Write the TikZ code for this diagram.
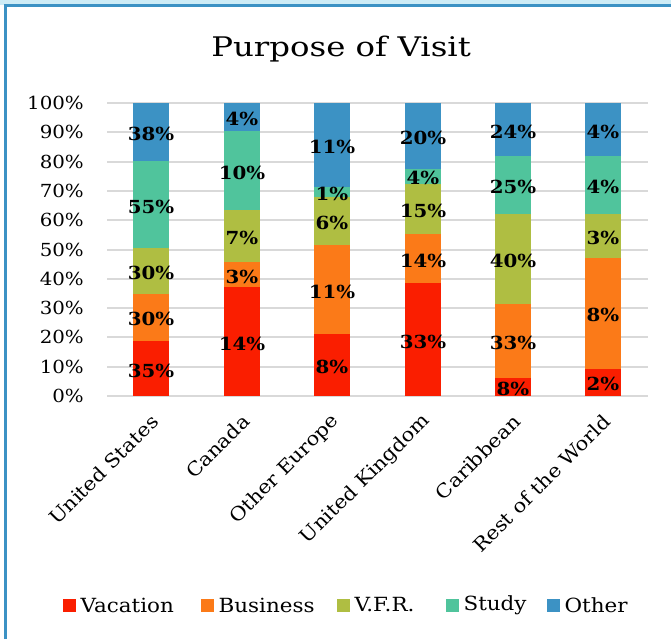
\documentclass[tikz,border=0pt]{standalone}
\usepackage{fontspec}
\setmainfont[FakeStretch=1.1]{DejaVu Serif}
\newfontfamily\titlefont[FakeStretch=1.2]{DejaVu Serif}
\definecolor{cVac}{RGB}{250,30,0}
\definecolor{cBus}{RGB}{251,122,24}
\definecolor{cVFR}{RGB}{175,190,66}
\definecolor{cStu}{RGB}{80,196,156}
\definecolor{cOth}{RGB}{60,146,196}
\definecolor{frameblue}{RGB}{60,146,196}
\definecolor{strip}{RGB}{205,236,246}
\definecolor{gridgray}{RGB}{217,217,217}
\tikzset{
  gridline/.style={draw=gridgray, line width=2},
  ticklbl/.style={anchor=east, inner sep=0, font=\fontsize{18}{20}\selectfont},
  seglbl/.style={inner sep=0, font=\fontsize{18}{20}\selectfont\bfseries},
  catlbl/.style={rotate=45, anchor=east, inner sep=0, font=\fontsize{19}{21}\selectfont},
  legsq/.style={minimum size=13, inner sep=0},
  leglbl/.style={anchor=west, inner sep=0, font=\fontsize{19.5}{21}\selectfont},
}
\begin{document}
\begin{tikzpicture}[x=1pt,y=-1pt]
\useasboundingbox (0,0) rectangle (671,639);
\fill[white] (0,0) rectangle (671,639);
\fill[strip] (0,0) rectangle (671,5);
\draw[frameblue, line width=3] (5,639) -- (5,5.5) -- (671,5.5);
\node[font=\fontsize{27}{30}\selectfont\titlefont] (title) at (341,49) {Purpose of Visit};
\foreach \p in {0,10,...,100} {
  \draw[gridline] (107,{396-2.93*\p}) -- (648,{396-2.93*\p});
  \node[ticklbl] (t\p) at (84,{396-2.93*\p}) {\p\%};
}
\foreach \i/\cx/\a/\b/\c/\d/\la/\lb/\lc/\ld/\le/\cat in {
  1/151/18.8/34.9/50.6/80.1/35/30/30/55/38/United States,
  2/242/37.1/45.8/63.5/90.4/14/3/7/10/4/Canada,
  3/332/21.0/51.5/67.8/71.2/8/11/6/1/11/Other Europe,
  4/423/38.6/55.2/72.5/77.5/33/14/15/4/20/United Kingdom,
  5/513/6.1/31.5/62.1/81.8/8/33/40/25/24/Caribbean,
  6/603/9.3/47.2/62.1/81.8/2/8/3/4/4/Rest of the World} {
  \fill[cVac] ({\cx-18},396) rectangle ({\cx+18},{396-2.93*\a});
  \fill[cBus] ({\cx-18},{396-2.93*\a}) rectangle ({\cx+18},{396-2.93*\b});
  \fill[cVFR] ({\cx-18},{396-2.93*\b}) rectangle ({\cx+18},{396-2.93*\c});
  \fill[cStu] ({\cx-18},{396-2.93*\c}) rectangle ({\cx+18},{396-2.93*\d});
  \fill[cOth] ({\cx-18},{396-2.93*\d}) rectangle ({\cx+18},{396-2.93*100});
  \node[seglbl] (s\i a) at (\cx,{396-2.93*(\a/2)+2}) {\la\%};
  \node[seglbl] (s\i b) at (\cx,{396-2.93*((\a+\b)/2)+2}) {\lb\%};
  \node[seglbl] (s\i c) at (\cx,{396-2.93*((\b+\c)/2)+2}) {\lc\%};
  \node[seglbl] (s\i d) at (\cx,{396-2.93*((\c+\d)/2)+2}) {\ld\%};
  \node[seglbl] (s\i e) at (\cx,{396-2.93*((\d+100)/2)+2}) {\le\%};
  \node[catlbl] (c\i) at ({\cx+4},418) {\cat};
}
\foreach \k/\x/\col/\txt in {1/63/cVac/Vacation, 2/201/cBus/Business, 3/337/cVFR/V.F.R., 4/446/cStu/Study, 5/547/cOth/Other} {
  \node[legsq, fill=\col, anchor=west] (q\k) at (\x,605) {};
  \node[leglbl] (g\k) at ([xshift=4]q\k.east) {\txt};
}
\end{tikzpicture}
\end{document}
